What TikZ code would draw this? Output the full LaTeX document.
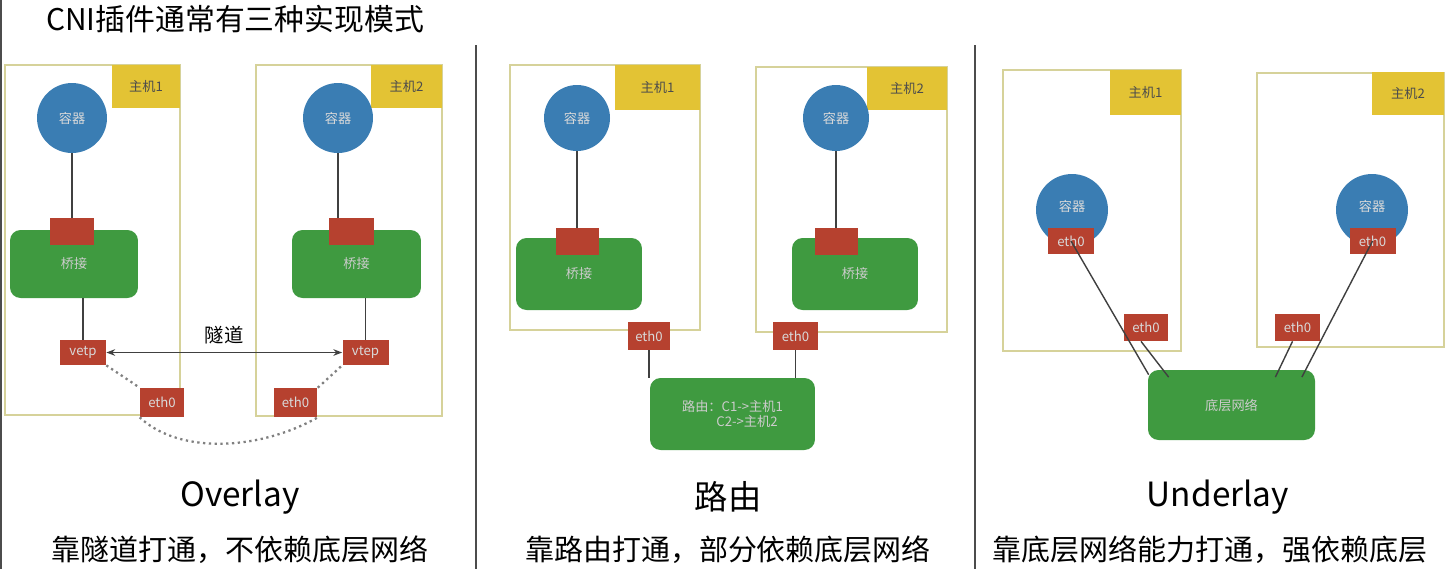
\documentclass[tikz,border=0pt]{standalone}
\usepackage{fontspec}
\setmainfont{Noto Sans CJK SC}
\usetikzlibrary{arrows.meta}
\definecolor{hostline}{HTML}{D6D29A}
\definecolor{hostfill}{HTML}{E3C334}
\definecolor{ctrblue}{HTML}{3A7DB3}
\definecolor{brgreen}{HTML}{3F9A40}
\definecolor{portred}{HTML}{B6412F}
\tikzset{
  host/.style = {draw=hostline, line width=0.9pt, rectangle},
  hostlbl/.style = {fill=hostfill, text=black!70, font=\fontsize{7.5}{8}\selectfont},
  ctr/.style = {circle, fill=ctrblue, text=white!85!black, font=\fontsize{7.5}{8}\selectfont, inner sep=0pt},
  bridge/.style = {rounded corners=6pt, fill=brgreen, text=white!80!black, font=\fontsize{7.5}{9}\selectfont},
  port/.style = {fill=portred, text=white!85!black, font=\fontsize{7.5}{8}\selectfont, inner sep=0pt},
  wire/.style = {draw=black!75, line width=0.8pt},
  caption/.style = {font=\fontsize{16.5}{18}\selectfont}
}
\begin{document}
\begin{tikzpicture}[x=0.02cm, y=-0.02cm]
\useasboundingbox (0,0) rectangle (1450,569);
% title and panel dividers
\node[font=\fontsize{17}{19}\selectfont, anchor=west] (title) at (40,19) {CNI插件通常有三种实现模式};
\draw[black!70, line width=1pt] (476,45) -- (476,569);
\draw[black!70, line width=1pt] (975,45) -- (975,569);
\draw[black!70, line width=1pt] (1,0) -- (1,569);

% Overlay
\node[host, minimum width=3.5cm, minimum height=7cm] (h1L) at (92.5,240) {};
\node[hostlbl, minimum width=1.36cm, minimum height=0.86cm] (l1L) at (146,86.5) {主机1};
\node[ctr, minimum size=1.4cm] (c1L) at (72,118) {容器};
\node[bridge, minimum width=2.56cm, minimum height=1.36cm] (b1L) at (74,264) {\raisebox{-1.2ex}{桥接}};
\node[port, minimum width=0.9cm, minimum height=0.54cm] (p1L) at (72,231.5) {};
\node[port, minimum width=0.92cm, minimum height=0.5cm] (v1L) at (83,352.5) {vetp};
\node[host, minimum width=3.72cm, minimum height=7.02cm] (h2L) at (349,240.5) {};
\node[hostlbl, minimum width=1.42cm, minimum height=0.86cm] (l2L) at (406.5,86.5) {主机2};
\node[ctr, minimum size=1.4cm] (c2L) at (338,118) {容器};
\node[bridge, minimum width=2.58cm, minimum height=1.36cm] (b2L) at (356.5,264) {\raisebox{-1.2ex}{桥接}};
\node[port, minimum width=0.9cm, minimum height=0.54cm] (p2L) at (351,231.5) {};
\node[port, minimum width=0.92cm, minimum height=0.5cm] (v2L) at (365.5,352.5) {vtep};
\node[port, minimum width=0.88cm, minimum height=0.58cm] (e1L) at (162,402.5) {eth0};
\node[port, minimum width=0.88cm, minimum height=0.58cm] (e2L) at (295.5,402.5) {eth0};
\draw[wire] (c1L) -- (c1L |- p1L.north);
\draw[wire] (c2L) -- (c2L |- p2L.north);
\draw[wire] (v1L.north) -- (v1L.north |- b1L.south);
\draw[wire] (v2L.north) -- (v2L.north |- b2L.south);
\draw[wire, {Stealth[length=5pt]}-{Stealth[length=5pt]}] (v1L.east) -- node[above=1pt, font=\fontsize{11}{12}\selectfont] (tunnel) {隧道} (v2L.west);
\draw[black!50, dotted, line width=1.3pt] (v1L.south east) -- (e1L.north west);
\draw[black!50, dotted, line width=1.3pt] (e1L.south west) .. controls (180,455) and (260,450) .. (e2L.south east);
\draw[black!50, dotted, line width=1.3pt] (e2L.north east) -- (v2L.south west);
\node[caption, font=\fontsize{19}{21}\selectfont] (capL) at (240,497) {Overlay};
\node[caption] (subL) at (240,550) {靠隧道打通，不依赖底层网络};

% Routing
\node[host, minimum width=3.8cm, minimum height=5.3cm] (h1M) at (605,197.5) {};
\node[hostlbl, minimum width=1.7cm, minimum height=0.9cm] (l1M) at (657.5,87.5) {主机1};
\node[ctr, minimum size=1.32cm] (c1M) at (577,118) {容器};
\node[bridge, minimum width=2.52cm, minimum height=1.44cm] (b1M) at (579,274) {\raisebox{-1.2ex}{桥接}};
\node[port, minimum width=0.86cm, minimum height=0.54cm] (p1M) at (577,241.5) {};
\node[port, minimum width=0.84cm, minimum height=0.56cm] (e1M) at (649,336) {eth0};
\node[host, minimum width=3.82cm, minimum height=5.3cm] (h2M) at (851.5,199.5) {};
\node[hostlbl, minimum width=1.6cm, minimum height=0.86cm] (l2M) at (907,88.5) {主机2};
\node[ctr, minimum size=1.32cm] (c2M) at (836,118) {容器};
\node[bridge, minimum width=2.52cm, minimum height=1.44cm] (b2M) at (855,274) {\raisebox{-1.2ex}{桥接}};
\node[port, minimum width=0.86cm, minimum height=0.54cm] (p2M) at (836,241.5) {};
\node[port, minimum width=0.9cm, minimum height=0.56cm] (e2M) at (795.5,336) {eth0};
\node[bridge, minimum width=3.3cm, minimum height=1.44cm, align=left] (rM) at (732.5,414) {路由：C1->主机1\\\hspace*{2.6em}C2->主机2};
\draw[wire] (c1M) -- (c1M |- p1M.north);
\draw[wire] (c2M) -- (c2M |- p2M.north);
\draw[wire] (e1M.south) -- (e1M.south |- rM.north);
\draw[wire] (e2M.south) -- (e2M.south |- rM.north);
\node[caption, font=\fontsize{19}{21}\selectfont] (capM) at (728,497) {路由};
\node[caption] (subM) at (728,550) {靠路由打通，部分依赖底层网络};

% Underlay
\node[host, minimum width=3.56cm, minimum height=5.62cm] (h1R) at (1092,210.5) {};
\node[hostlbl, minimum width=1.42cm, minimum height=0.9cm] (l1R) at (1145.5,92.5) {主机1};
\node[ctr, minimum size=1.44cm] (c1R) at (1072,210) {\raisebox{1.2ex}{容器}};
\node[port, minimum width=0.92cm, minimum height=0.52cm] (e1R) at (1071,241) {eth0};
\node[port, minimum width=0.88cm, minimum height=0.54cm] (i1R) at (1146,327.5) {eth0};
\node[host, minimum width=3.74cm, minimum height=5.48cm] (h2R) at (1350.5,210) {};
\node[hostlbl, minimum width=1.44cm, minimum height=0.86cm] (l2R) at (1408,93.5) {主机2};
\node[ctr, minimum size=1.44cm] (c2R) at (1372,210) {\raisebox{1.2ex}{容器}};
\node[port, minimum width=0.92cm, minimum height=0.52cm] (e2R) at (1372.5,241) {eth0};
\node[port, minimum width=0.9cm, minimum height=0.54cm] (i2R) at (1297.5,327.5) {eth0};
\node[bridge, minimum width=3.34cm, minimum height=1.4cm] (nR) at (1231.5,405) {底层网络};
\draw[wire] (e1R.center) -- ([xshift=0.02cm, yshift=-0.1cm]nR.north west);
\draw[wire] ([xshift=-0.1cm]i1R.south) -- ([xshift=0.42cm, yshift=-0.15cm]nR.north west);
\draw[wire] ([xshift=-0.1cm]i2R.south) -- ([xshift=-0.8cm, yshift=-0.15cm]nR.north east);
\draw[wire] (e2R.center) -- ([xshift=-0.27cm, yshift=-0.15cm]nR.north east);
\node[caption, font=\fontsize{19}{21}\selectfont] (capR) at (1218,497) {Underlay};
\node[caption, anchor=west] (subR) at (986,550) {靠底层网络能力打通，强依赖底层};
\end{tikzpicture}
\end{document}
